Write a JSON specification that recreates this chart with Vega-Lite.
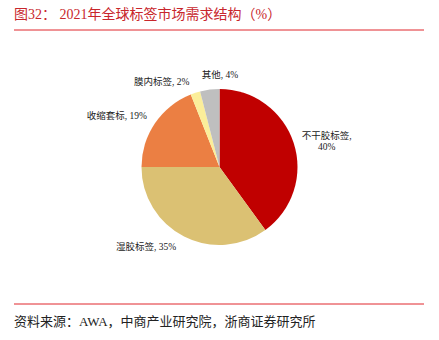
{
  "$schema": "https://vega.github.io/schema/vega-lite/v6.json",
  "width": 439,
  "height": 334,
  "autosize": "none",
  "padding": {"left": 0, "top": 0, "right": 0, "bottom": 6},
  "background": "white",
  "config": {"view": {"stroke": null}},
  "data": {
    "values": [
      {"name": "不干胶标签", "value": 40, "ord": 1, "label": "不干胶标签,\n40%"},
      {"name": "湿胶标签", "value": 35, "ord": 2, "label": "湿胶标签, 35%"},
      {"name": "收缩套标", "value": 19, "ord": 3, "label": "收缩套标, 19%"},
      {"name": "膜内标签", "value": 2, "ord": 4, "label": "膜内标签, 2%"},
      {"name": "其他", "value": 4, "ord": 5, "label": "其他, 4%"}
    ]
  },
  "layer": [
    {
      "mark": {"type": "arc", "outerRadius": 78},
      "encoding": {
        "theta": {"field": "value", "type": "quantitative", "stack": true},
        "order": {"field": "ord", "type": "quantitative"},
        "color": {
          "field": "name",
          "type": "nominal",
          "legend": null,
          "scale": {
            "domain": ["不干胶标签", "湿胶标签", "收缩套标", "膜内标签", "其他"],
            "range": ["#C00000", "#DBC173", "#EB7F43", "#FBEE9A", "#BFBFBF"]
          }
        }
      }
    },
    {
      "mark": {"type": "text", "radius": 100, "dx": 12, "dy": 0, "fontSize": 9.5, "font": "Liberation Serif, Noto Sans CJK SC", "color": "#222", "lineBreak": "\n", "lineHeight": 11},
      "encoding": {
        "theta": {"field": "value", "type": "quantitative", "stack": true},
        "order": {"field": "ord", "type": "quantitative"},
        "text": {"condition": {"test": "datum.name === '不干胶标签'", "field": "label"}, "value": ""}
      }
    },
    {
      "mark": {"type": "text", "radius": 100, "dx": -28, "dy": -9, "fontSize": 9.5, "font": "Liberation Serif, Noto Sans CJK SC", "color": "#222"},
      "encoding": {
        "theta": {"field": "value", "type": "quantitative", "stack": true},
        "order": {"field": "ord", "type": "quantitative"},
        "text": {"condition": {"test": "datum.name === '湿胶标签'", "field": "label"}, "value": ""}
      }
    },
    {
      "mark": {"type": "text", "radius": 100, "dx": -20, "dy": 5, "fontSize": 9.5, "font": "Liberation Serif, Noto Sans CJK SC", "color": "#222"},
      "encoding": {
        "theta": {"field": "value", "type": "quantitative", "stack": true},
        "order": {"field": "ord", "type": "quantitative"},
        "text": {"condition": {"test": "datum.name === '收缩套标'", "field": "label"}, "value": ""}
      }
    },
    {
      "mark": {"type": "text", "radius": 100, "dx": -27, "dy": 10, "fontSize": 9.5, "font": "Liberation Serif, Noto Sans CJK SC", "color": "#222"},
      "encoding": {
        "theta": {"field": "value", "type": "quantitative", "stack": true},
        "order": {"field": "ord", "type": "quantitative"},
        "text": {"condition": {"test": "datum.name === '膜内标签'", "field": "label"}, "value": ""}
      }
    },
    {
      "mark": {"type": "text", "radius": 100, "dx": 13, "dy": 7, "fontSize": 9.5, "font": "Liberation Serif, Noto Sans CJK SC", "color": "#222"},
      "encoding": {
        "theta": {"field": "value", "type": "quantitative", "stack": true},
        "order": {"field": "ord", "type": "quantitative"},
        "text": {"condition": {"test": "datum.name === '其他'", "field": "label"}, "value": ""}
      }
    },
    {
      "data": {"values": [{"t": "图32：  2021年全球标签市场需求结构（%）"}]},
      "mark": {"type": "text", "align": "left", "baseline": "middle", "fontSize": 14, "letterSpacing": 0.4, "font": "Liberation Serif, Noto Sans CJK SC", "color": "#C8262C"},
      "encoding": {"text": {"field": "t"}, "x": {"value": 14}, "y": {"value": 15}}
    },
    {
      "data": {"values": [{"t": "资料来源：AWA，中商产业研究院，浙商证券研究所"}]},
      "mark": {"type": "text", "align": "left", "baseline": "middle", "fontSize": 13, "font": "Liberation Serif, Noto Sans CJK SC", "color": "#222"},
      "encoding": {"text": {"field": "t"}, "x": {"value": 14}, "y": {"value": 322}}
    },
    {
      "data": {"values": [{"p": "top"}]},
      "mark": {"type": "rule", "color": "#E0262C", "strokeWidth": 1},
      "encoding": {"x": {"value": 14}, "x2": {"value": 424}, "y": {"value": 30}}
    },
    {
      "data": {"values": [{"p": "bottom"}]},
      "mark": {"type": "rule", "color": "#E0262C", "strokeWidth": 1},
      "encoding": {"x": {"value": 14}, "x2": {"value": 424}, "y": {"value": 304}}
    }
  ]
}
